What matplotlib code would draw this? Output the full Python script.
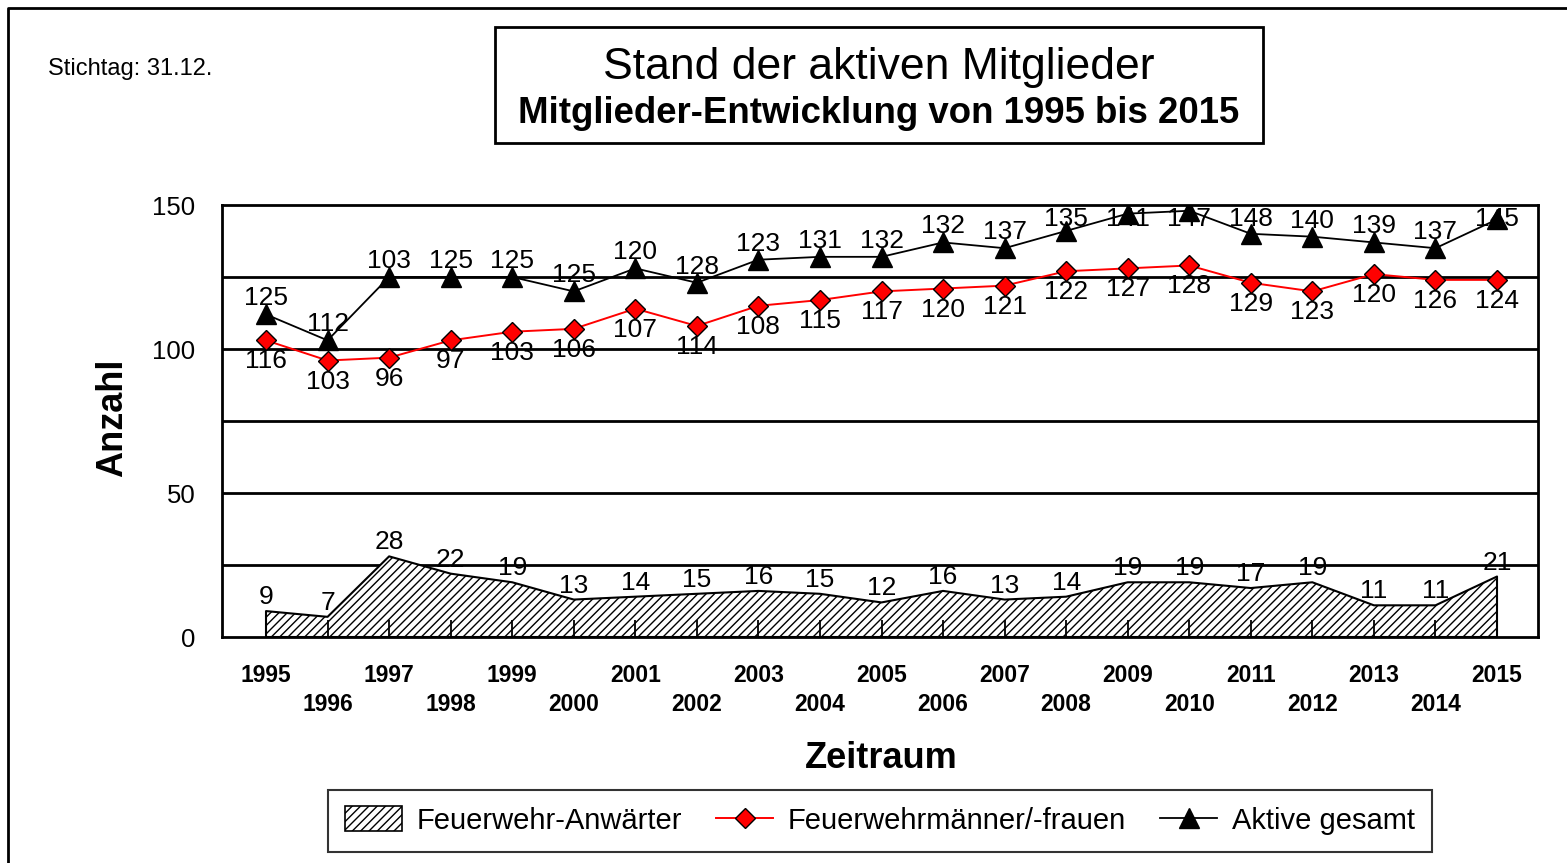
import matplotlib
matplotlib.use("Agg")
import matplotlib.pyplot as plt
from matplotlib.patches import Rectangle
from matplotlib.lines import Line2D

plt.rcParams['font.family'] = ['Liberation Sans', 'DejaVu Sans']
plt.rcParams['hatch.linewidth'] = 1.0

# ---------------- data ----------------
years = [1995, 1996, 1997, 1998, 1999, 2000, 2001, 2002, 2003, 2004, 2005,
         2006, 2007, 2008, 2009, 2010, 2011, 2012, 2013, 2014, 2015]
anwaerter = [9, 7, 28, 22, 19, 13, 14, 15, 16, 15, 12, 16, 13, 14, 19, 19, 17, 19, 11, 11, 21]
feuerwehr = [103, 96, 97, 103, 106, 107, 114, 108, 115, 117, 120, 121, 122, 127, 128, 129,
             123, 120, 126, 124, 124]
gesamt = [112, 103, 125, 125, 125, 120, 128, 123, 131, 132, 132, 137, 135, 141, 147, 148,
          140, 139, 137, 135, 145]
# data labels as printed in the chart
anwaerter_labels = ["9", "7", "28", "22", "19", "13", "14", "15", "16", "15", "12", "16",
                    "13", "14", "19", "19", "17", "19", "11", "11", "21"]
feuerwehr_labels = ["116", "103", "96", "97", "103", "106", "107", "114", "108", "115", "117",
                    "120", "121", "122", "127", "128", "129", "123", "120", "126", "124"]
gesamt_labels = ["125", "112", "103", "125", "125", "125", "120", "128", "123", "131", "132",
                 "132", "137", "135", "141", "147", "148", "140", "139", "137", "145"]
y_ticks = [0, 50, 100, 150]
grid_vals = [25, 50, 75, 100, 125]

W, H = 1567, 863
def fx(px): return px / W
def fy(py): return 1 - py / H

fig = plt.figure(figsize=(W / 100, H / 100), dpi=100)
fig.patch.set_facecolor('white')

# outer frame (left and top edges only)
fig.add_artist(Line2D([fx(8), fx(8), 1.0], [0.0, fy(8.5), fy(8.5)],
                      transform=fig.transFigure, color='black', lw=2))

ax = fig.add_axes([fx(222), fy(637), (1538 - 222) / W, (637 - 205) / H])
x = list(range(len(years)))
ax.set_xlim(-0.715, 20.666)
ax.set_ylim(0, 150)

for g in grid_vals:
    ax.axhline(g, color='black', lw=2, zorder=0.8)

ax.fill_between(x, 0, anwaerter, facecolor='white', edgecolor='black',
                hatch='////', linewidth=1.5, zorder=1)
ax.plot(x, feuerwehr, color='red', lw=1.4, marker='D', ms=10.5,
        markerfacecolor='red', markeredgecolor='black', markeredgewidth=1.0, zorder=4)
ax.plot(x, gesamt, color='black', lw=1.3, marker='^', ms=14,
        markerfacecolor='black', markeredgecolor='black', zorder=4)

px_per_unit = 432 / 150
cap = 150 - 21 / px_per_unit
for i in x:
    ax.text(i, min(gesamt[i] + 9 / px_per_unit, cap), gesamt_labels[i], ha='center',
            va='baseline', fontsize=19, zorder=3.5)
    ax.text(i, feuerwehr[i] - 28 / px_per_unit, feuerwehr_labels[i], ha='center',
            va='baseline', fontsize=19, zorder=3.5)
    ax.text(i, anwaerter[i] + 7 / px_per_unit, anwaerter_labels[i], ha='center',
            va='baseline', fontsize=19, zorder=3.5)

ax.set_yticks(y_ticks)
ax.set_yticklabels([str(v) for v in y_ticks], fontsize=18.5)
ax.tick_params(axis='y', length=0, pad=19)
ax.set_xticks(x)
ax.tick_params(axis='x', direction='in', length=12, width=1.3, color='black',
               labelbottom=False)
for i, yr in zip(x, years):
    ax.text(i, -0.088 if i % 2 == 0 else -0.157, str(yr), transform=ax.get_xaxis_transform(),
            ha='center', va='center', fontsize=16.5, fontweight='bold')

for s in ax.spines.values():
    s.set_linewidth(2)
    s.set_color('black')

# axis titles
fig.text(fx(113), fy(418), 'Anzahl', rotation=90, ha='center', va='center',
         fontsize=26, fontweight='bold')
fig.text(fx(881), fy(758), 'Zeitraum', ha='center', va='center',
         fontsize=26, fontweight='bold')

# stichtag
fig.text(fx(48), fy(69), 'Stichtag: 31.12.', ha='left', va='center', fontsize=17)

# title box
fig.add_artist(Rectangle((fx(495), fy(143)), (1263 - 495) / W, (143 - 27) / H,
                         transform=fig.transFigure, fill=False, edgecolor='black', lw=2))
fig.text(fx(879), fy(79), 'Stand der aktiven Mitglieder', ha='center', va='baseline',
         fontsize=32)
fig.text(fx(879), fy(123), 'Mitglieder-Entwicklung von 1995 bis 2015', ha='center',
         va='baseline', fontsize=26.4, fontweight='bold')

# legend
h1 = Rectangle((0, 0), 1, 1, facecolor='white', edgecolor='black', hatch='////', lw=1.2)
h2 = Line2D([], [], color='red', lw=1.4, marker='D', ms=10.5, markerfacecolor='red',
            markeredgecolor='black')
h3 = Line2D([], [], color='black', lw=1.3, marker='^', ms=14, markerfacecolor='black')
leg = fig.legend([h1, h2, h3], ['Feuerwehr-Anwärter', 'Feuerwehrmänner/-frauen', 'Aktive gesamt'],
                 loc='center', bbox_to_anchor=(fx(880), fy(820.5)), ncol=3, frameon=True,
                 fancybox=False, edgecolor='black', fontsize=21, handlelength=1.95,
                 handleheight=0.9, handletextpad=0.5, columnspacing=1.17, borderpad=0.58,
                 borderaxespad=0)
leg.get_frame().set_linewidth(1.5)

fig.savefig('out.png', dpi=100)
